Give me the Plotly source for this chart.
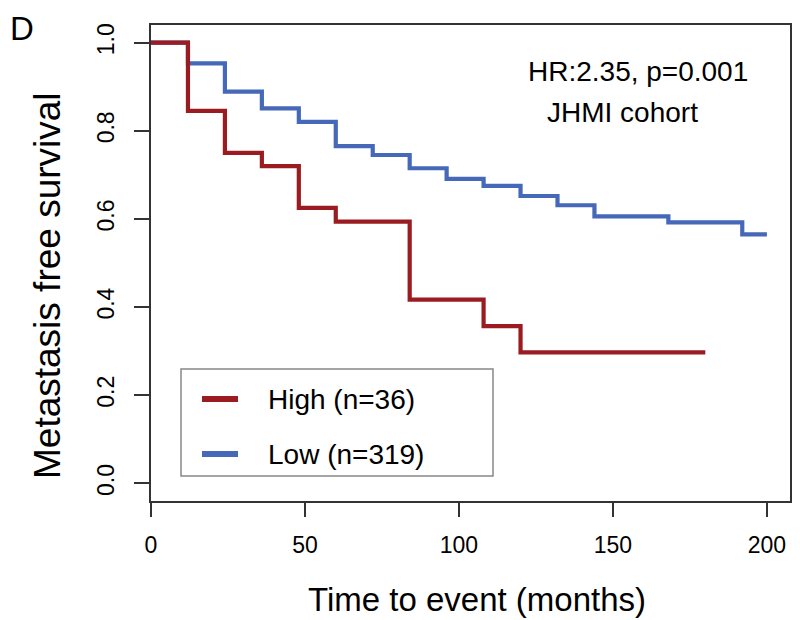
import plotly.graph_objects as go

# ---- data ----
high_time = [0, 12, 24, 36, 48, 60, 84, 108, 120, 180]
high_surv = [1.0, 0.845, 0.750, 0.720, 0.625, 0.594, 0.417, 0.357, 0.297, 0.297]

low_time = [0, 12, 24, 36, 48, 60, 72, 84, 96, 108, 120, 132, 144, 168, 192, 200]
low_surv = [1.0, 0.953, 0.889, 0.851, 0.820, 0.765, 0.745, 0.715, 0.691, 0.675,
            0.652, 0.631, 0.606, 0.592, 0.565, 0.565]

series_names = ["High (n=36)", "Low (n=319)"]
series_colors = ["#9B1C20", "#4568B8"]
x_ticks = [0, 50, 100, 150, 200]
y_ticks = [0.0, 0.2, 0.4, 0.6, 0.8, 1.0]
y_tick_text = ["0.0", "0.2", "0.4", "0.6", "0.8", "1.0"]
annot_lines = ["HR:2.35, p=0.001", "JHMI cohort"]
panel_label = "D"
x_title = "Time to event (months)"
y_title = "Metastasis free survival"

FONT = "Liberation Sans, Arial, Helvetica, sans-serif"

# plot area on the page (page has an 8px body margin)
PL, PT, PW, PH = 151, 25, 639, 476
OFF = 8


def px(X):
    return (X - PL) / PW


def py(Y):
    return (PT + PH - Y) / PH


fig = go.Figure()
# blue first so red sits on top
fig.add_trace(go.Scatter(x=low_time, y=low_surv, mode="lines", line_shape="hv",
                         line=dict(color=series_colors[1], width=4.2), name=series_names[1],
                         showlegend=False, hoverinfo="skip"))
fig.add_trace(go.Scatter(x=high_time, y=high_surv, mode="lines", line_shape="hv",
                         line=dict(color=series_colors[0], width=4.2), name=series_names[0],
                         showlegend=False, hoverinfo="skip"))

W, H = 800, 620
fig.update_layout(
    width=W, height=H,
    margin=dict(l=PL - OFF, r=W - (PL - OFF) - PW, t=PT - OFF, b=H - (PT - OFF) - PH),
    paper_bgcolor="white", plot_bgcolor="white",
    font=dict(family=FONT, color="black"),
    showlegend=False,
)
fig.update_xaxes(
    range=[0, 207.5], tickvals=x_ticks, ticktext=[str(v) for v in x_ticks],
    showgrid=False, zeroline=False,
    showline=True, mirror=True, linecolor="#333333", linewidth=1.5,
    ticks="outside", ticklen=14, tickwidth=1.5, tickcolor="#333333",
    tickfont=dict(size=23, family=FONT, color="black"), ticklabelstandoff=9,
)
fig.update_yaxes(
    range=[-0.04, 1.04], tickvals=y_ticks, ticktext=y_tick_text,
    showgrid=False, zeroline=False,
    showline=True, mirror=True, linecolor="#333333", linewidth=1.5,
    ticks="outside", ticklen=15, tickwidth=1.5, tickcolor="#333333",
    tickangle=-90,
    tickfont=dict(size=23, family=FONT, color="black"), ticklabelstandoff=11,
)

# legend box (manual, matching reference layout)
fig.add_shape(type="rect", xref="paper", yref="paper",
              x0=px(181), x1=px(493), y0=py(476), y1=py(369),
              line=dict(color="#888888", width=1.5), fillcolor="rgba(0,0,0,0)")
legend_y_px = [399, 454]
for i, name in enumerate(series_names):
    yp = py(legend_y_px[i])
    fig.add_shape(type="line", xref="paper", yref="paper",
                  x0=px(202), x1=px(238), y0=yp, y1=yp,
                  line=dict(color=series_colors[i], width=6))
    fig.add_annotation(text=name, xref="paper", yref="paper",
                       x=px(266), y=yp, xanchor="left", yanchor="middle",
                       showarrow=False, font=dict(size=28, family=FONT, color="black"))

# HR / cohort annotation
fig.add_annotation(text=annot_lines[0], xref="paper", yref="paper",
                   x=px(638), y=py(72), xanchor="center", yanchor="middle",
                   showarrow=False, font=dict(size=28, family=FONT, color="black"))
fig.add_annotation(text=annot_lines[1], xref="paper", yref="paper",
                   x=px(622), y=py(112), xanchor="center", yanchor="middle",
                   showarrow=False, font=dict(size=28, family=FONT, color="black"))

# axis titles and panel label
fig.add_annotation(text=x_title, xref="paper", yref="paper",
                   x=px(477), y=py(599), xanchor="center", yanchor="middle",
                   showarrow=False, font=dict(size=33, family=FONT, color="black"))
fig.add_annotation(text=y_title, xref="paper", yref="paper",
                   x=px(47), y=py(286), xanchor="center", yanchor="middle",
                   textangle=-90, showarrow=False, font=dict(size=37, family=FONT, color="black"))
fig.add_annotation(text=panel_label, xref="paper", yref="paper",
                   x=px(OFF), y=py(OFF), xanchor="left", yanchor="top",
                   showarrow=False, font=dict(size=33, family=FONT, color="black"))

fig.write_html("out.html")
